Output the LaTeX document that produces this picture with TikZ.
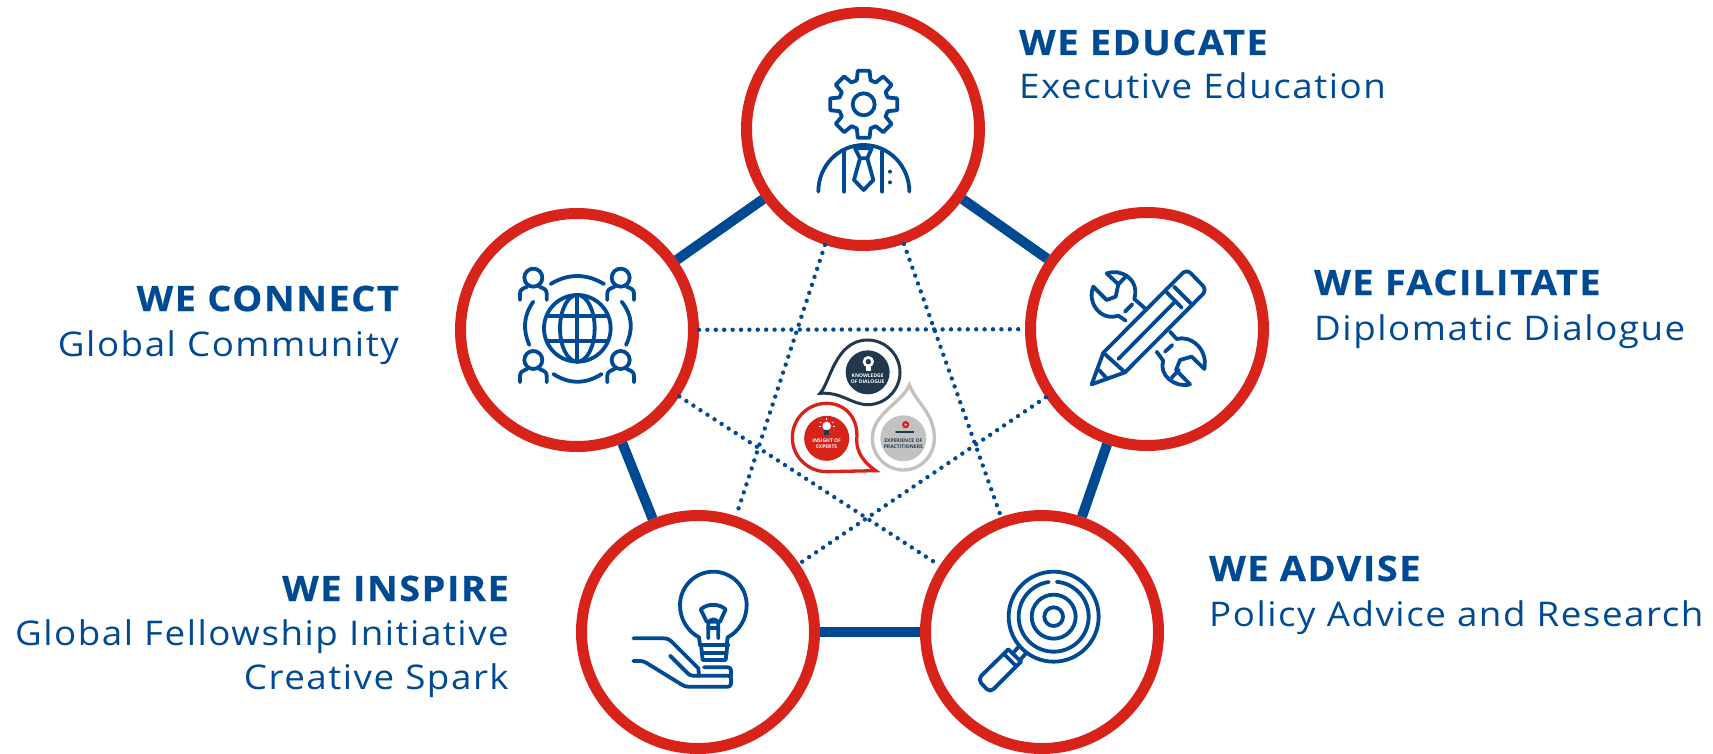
\documentclass[tikz,border=0pt]{standalone}
\usepackage{fontspec}
\setmainfont{Open Sans}
\newfontfamily\lbl[LetterSpace=4.5,FakeStretch=1.08,BoldFeatures={FakeBold=0.6}]{Open Sans}
\definecolor{nblue}{HTML}{004A93}
\definecolor{nred}{HTML}{D7231A}
\definecolor{ndark}{HTML}{22394D}
\definecolor{ngray}{HTML}{C4C2C0}
\tikzset{
  ringnode/.style={circle,draw=nred,line width=11pt,minimum size=233pt,inner sep=0pt},
  bar/.style={draw=nblue,line width=10pt},
  dots/.style={draw=nblue,line width=4.4pt,line cap=round,dash pattern=on 0pt off 8.4pt},
  icon/.style={draw=nblue,line width=3.8pt,line cap=round,line join=round},
  headtxt/.style={font=\lbl\fontsize{35}{40}\selectfont\bfseries,text=nblue,inner sep=0pt},
  subtxt/.style={font=\lbl\fontsize{34}{40}\selectfont,text=nblue,inner sep=0pt},
  tiny/.style={font=\fontsize{5}{6}\selectfont\bfseries,inner sep=0pt,align=center},
  zoomed/.style={shift={#1},x=0.33333pt,y=-0.33333pt}
}
\begin{document}
\begin{tikzpicture}[x=1pt,y=-1pt]
\useasboundingbox (0,0) rectangle (1713,754);
% rings
\node[ringnode] (top) at (863,129) {};
\node[ringnode] (left) at (577,330) {};
\node[ringnode] (right) at (1147,329) {};
\node[ringnode] (bl) at (698,632) {};
\node[ringnode] (br) at (1042,632) {};
% connectors
\draw[bar] (top) -- (left);
\draw[bar] (top) -- (right);
\draw[bar] (right) -- (br);
\draw[bar] (br) -- (bl);
\draw[bar] (bl) -- (left);
\draw[dots] (left) -- (right);
\draw[dots] (top) -- (bl);
\draw[dots] (top) -- (br);
\draw[dots] (left) -- (br);
\draw[dots] (right) -- (bl);
% texts
\node[headtxt,anchor=base west] (t1) at (1019,55) {WE EDUCATE};
\node[subtxt,anchor=base west] (t2) at (1019,99) {Executive Education};
\node[headtxt,anchor=base west] (t3) at (1314,295) {WE FACILITATE};
\node[subtxt,anchor=base west] (t4) at (1314,340) {Diplomatic Dialogue};
\node[headtxt,anchor=base west] (t5) at (1209,581) {WE ADVISE};
\node[subtxt,anchor=base west] (t6) at (1209,626) {Policy Advice and Research};
\node[headtxt,anchor=base east] (t7) at (399,311) {WE CONNECT};
\node[subtxt,anchor=base east] (t8) at (399,356) {Global Community};
\node[headtxt,anchor=base east] (t9) at (509,601) {WE INSPIRE};
\node[subtxt,anchor=base east] (t10) at (509,645) {Global Fellowship Initiative};
\node[subtxt,anchor=base east] (t11) at (509,689) {Creative Spark};
% gear person
\begin{scope}[zoomed={(790,50)}]
\draw[icon] ({221+75*cos(-16)},{163+75*sin(-16)})
  \foreach \a in {0,45,...,315} {
   -- ({221+75*cos(\a-16)},{163+75*sin(\a-16)})
   -- ({221+102*cos(\a-10)},{163+102*sin(\a-10)})
   -- ({221+102*cos(\a+10)},{163+102*sin(\a+10)})
   -- ({221+75*cos(\a+16)},{163+75*sin(\a+16)})} -- cycle;
\draw[icon] (221,163) circle[radius=33];
\draw[icon] (85,425) .. controls (85,348) and (145,285) .. (221,285) .. controls (297,285) and (358,348) .. (358,425);
\draw[icon] (163,305) -- (163,425);
\draw[icon] (277,305) -- (277,425);
\draw[icon] (195,295) -- (245,295) -- (232,325) -- (210,325) -- cycle;
\draw[icon] (210,325) -- (192,390) -- (221,420) -- (250,390) -- (232,325);
\fill[nblue] (300,365) circle[radius=6];
\fill[nblue] (300,397) circle[radius=6];
\end{scope}
% globe
\begin{scope}[zoomed={(500,250)}]
\draw[icon] (232,235) circle[radius=100];
\draw[icon] (232,235) ellipse[x radius=52,y radius=100];
\draw[icon] (232,135) -- (232,335);
\draw[icon] (140,198) -- (324,198);
\draw[icon] (140,272) -- (324,272);
\foreach \px/\py in {100/83,362/83,100/330,362/330}{
  \draw[icon] (\px,\py) circle[radius=27];
  \draw[icon] (\px-40,\py+67) -- (\px-40,\py+47) .. controls (\px-40,\py+35) and (\px-30,\py+32) .. (\px-18,\py+27);
  \draw[icon] (\px+40,\py+67) -- (\px+40,\py+47) .. controls (\px+40,\py+35) and (\px+30,\py+32) .. (\px+18,\py+27);
}
\draw[icon] (152,102) .. controls (205,70) and (258,70) .. (312,102);
\draw[icon] (100,155) .. controls (69,198) and (69,242) .. (88,285);
\draw[icon] (365,155) .. controls (399,198) and (399,242) .. (378,285);
\draw[icon] (160,372) .. controls (208,403) and (257,403) .. (305,372);
\end{scope}
% tools
\begin{scope}[zoomed={(1075,255)}]
\draw[icon,rounded corners=6pt] (85,293) -- (335,42) -- (396,105) -- (150,352);
\draw[icon] (50,388) -- (85,293) -- (150,352) -- cycle;
\draw[icon] (72,345) -- (97,372);
\draw[icon] (130,312) -- (297,143);
\draw[icon] (275,112) -- (320,158);
\draw[icon] (297,95) -- (352,150);
\draw[icon] (95,55) .. controls (135,40) and (195,70) .. (178,132) -- (210,160);
\draw[icon] (95,55) -- (130,88) -- (122,125) -- (95,135) -- (55,95) .. controls (35,140) and (75,200) .. (130,182) -- (152,197);
\draw[icon] (150,170) -- (172,148);
\draw[icon] (130,88) -- (155,62);
\draw[icon] (285,230) -- (305,252) .. controls (345,240) and (400,280) .. (388,342) -- (350,305) -- (315,315) -- (303,345) -- (345,388) .. controls (300,400) and (250,360) .. (265,318) -- (245,290);
\draw[icon] (270,290) -- (292,270);
\draw[icon] (290,368) -- (312,345);
\end{scope}
% bulb
\begin{scope}[zoomed={(620,560)}]
\draw[icon] (240,255) -- (237,232) .. controls (205,215) and (180,180) .. (180,135) .. controls (180,80) and (225,35) .. (280,35) .. controls (335,35) and (380,80) .. (380,135) .. controls (380,180) and (355,215) .. (323,232) -- (320,255);
\draw[icon] (240,255) -- (325,255);
\draw[icon] (245,278) -- (320,278);
\draw[icon] (243,255) -- (248,300) -- (317,300) -- (322,255);
\draw[icon] (242,148) .. controls (262,130) and (297,130) .. (317,148) -- (300,185) -- (260,185) -- cycle;
\draw[icon] (265,235) -- (265,195) .. controls (265,172) and (295,172) .. (295,195) -- (295,235);
\draw[icon] (265,205) -- (295,205);
\draw[icon] (40,235) -- (130,235) .. controls (145,235) and (150,240) .. (160,250) -- (235,325) -- (237,348);
\draw[icon,rounded corners=3pt] (40,303) -- (70,303) -- (195,380) -- (333,380) -- (333,347) -- (210,347) -- (150,287);
\draw[icon,rounded corners=3pt] (252,322) -- (333,322) -- (333,350);
\end{scope}
% magnifier
\begin{scope}[zoomed={(965,560)}]
\draw[icon] (266,170) circle[radius=135];
\draw[icon] plot[domain=-85:262,samples=70,smooth] ({266+105*cos(\x)},{170+105*sin(\x)});
\draw[icon] (266,170) circle[radius=66];
\draw[icon] (266,170) circle[radius=28];
\draw[icon] (163,258) -- (145,278);
\draw[icon] (183,280) -- (165,300);
\draw[icon] (130,268) -- (168,305);
\draw[icon] (120,285) -- (150,315);
\draw[icon,rounded corners=5pt] (130,268) -- (38,358) -- (75,398) -- (168,305);
\end{scope}
% centre emblem
\begin{scope}[zoomed={(785,330)}]
\draw[ndark,line width=3pt,line join=miter] (105,190) .. controls (135,160) and (150,30) .. (248,30) .. controls (301,30) and (345,74) .. (345,127) .. controls (345,180) and (301,224) .. (248,224) .. controls (200,224) and (170,185) .. cycle;
\node[circle,fill=ndark,minimum size=44pt,inner sep=0pt] (kc) at (248,127) {};
\fill[white] (250,95) circle[radius=17];
\fill[white] (242,105) rectangle (258,122);
\fill[ndark] (250,95) circle[radius=8];
\node[tiny,text=white] (kt) at (248,145) {KNOWLEDGE\\OF DIALOGUE};
\draw[nred,line width=3.3pt,line join=miter] (272,422) -- (125,425) .. controls (68,425) and (22,379) .. (22,323) .. controls (22,266) and (68,220) .. (125,220) .. controls (182,220) and (222,266) .. (215,330) .. controls (215,370) and (240,400) .. cycle;
\node[circle,fill=nred,minimum size=45pt,inner sep=0pt] (rc) at (125,325) {};
\fill[white] (125,288) circle[radius=13];
\fill[ndark] (117,300) rectangle (133,314);
\foreach \a in {30,90,150,0,180}
  \draw[white,line width=.6pt] ({125+18*cos(\a)},{288-18*sin(\a)}) -- ({125+24*cos(\a)},{288-24*sin(\a)});
\node[tiny,text=white] (rt) at (125,340) {INSIGHT OF\\EXPERTS};
\draw[ngray,line width=3.4pt,line join=miter] (373,165) .. controls (350,220) and (262,250) .. (262,325) .. controls (262,377) and (303,420) .. (355,420) .. controls (407,420) and (448,377) .. (448,325) .. controls (448,250) and (395,220) .. cycle;
\node[circle,fill=ngray,minimum size=46pt,inner sep=0pt] (gc) at (355,325) {};
\fill[nred] (362,284) circle[radius=11];
\fill[ngray] (362,284) circle[radius=4];
\draw[ndark,line width=2pt,line cap=round] (333,305) -- (385,305);
\node[tiny,text=ndark] (gt) at (355,342) {EXPERIENCE OF\\PRACTITIONERS};
\end{scope}
\end{tikzpicture}
\end{document}
